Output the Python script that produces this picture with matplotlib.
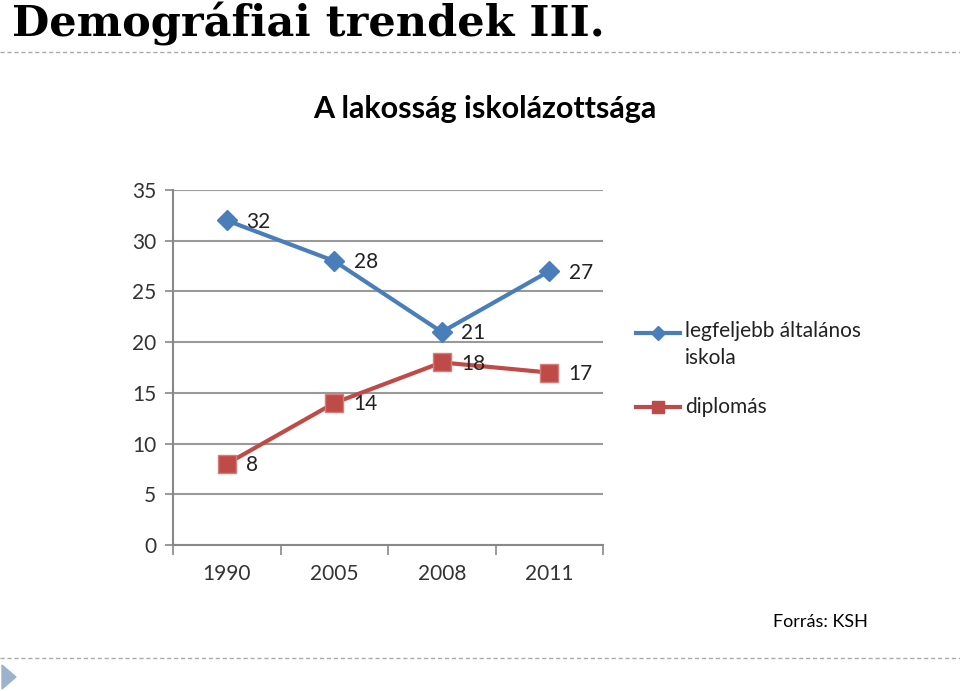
import matplotlib.pyplot as plt
import numpy as np
from matplotlib.lines import Line2D

# data
years = ['1990', '2005', '2008', '2011']
alapfok = [32, 28, 21, 27]
diplomas = [8, 14, 18, 17]
labels = ['legfeljebb általános\niskola', 'diplomás']
yticks = [0, 5, 10, 15, 20, 25, 30, 35]

blue = '#4A7EBB'
red = '#BE4B48'
sans = ['Lato', 'DejaVu Sans']

fig = plt.figure(figsize=(9.6, 6.91), dpi=100)

# slide title and decorations
fig.text(12 / 960, 1 - 37 / 691, 'Demográfiai trendek III.', family='DejaVu Serif',
         weight='bold', size=31, ha='left', va='baseline', color='black')
fig.add_artist(Line2D([0, 1], [1 - 52 / 691] * 2, color='#AAAAAA', lw=1, ls=(0, (3, 2))))
fig.add_artist(Line2D([0, 1], [1 - 658 / 691] * 2, color='#AAAAAA', lw=1, ls=(0, (3, 2))))
fig.add_artist(plt.Polygon([[2 / 960, 1 - 665 / 691], [2 / 960, 1 - 689 / 691], [16 / 960, 1 - 677 / 691]],
                           closed=True, color='#9DB3CC', transform=fig.transFigure))

fig.text(485 / 960, 1 - 118 / 691, 'A lakosság iskolázottsága', family=sans,
         weight='bold', size=22, ha='center', va='baseline')
fig.text(868 / 960, 1 - 627 / 691, 'Forrás: KSH', family=sans, size=13,
         ha='right', va='baseline')

ax = fig.add_axes([173 / 960, 1 - 545 / 691, 430 / 960, 355 / 691])
x = np.arange(len(years))

ax.plot(x, alapfok, color=blue, lw=3, marker='D', ms=10, mfc=blue, mec=blue)
ax.plot(x, diplomas, color=red, lw=3, marker='s', ms=13, mfc=red, mec='#D97C79')

for xi, v in zip(x, alapfok):
    ax.annotate(str(v), (xi, v), xytext=(14, -1), textcoords='offset points',
                ha='left', va='center', family=sans, size=15, color='#222222')
for xi, v in zip(x, diplomas):
    ax.annotate(str(v), (xi, v), xytext=(14, -1), textcoords='offset points',
                ha='left', va='center', family=sans, size=15, color='#222222')

ax.set_xlim(-0.5, 3.5)
ax.set_ylim(0, 35)
ax.set_yticks(yticks)
ax.set_yticklabels([str(t) for t in yticks], family=sans, size=15, color='#333333')
ax.set_xticks(x)
ax.set_xticklabels(years, family=sans, size=15, color='#333333')
ax.set_xticks(np.arange(-0.5, 4, 1), minor=True)
ax.tick_params(axis='x', which='major', length=0, pad=14)
ax.tick_params(axis='x', which='minor', length=7, color='#888888', width=1.2)
ax.tick_params(axis='y', length=6, color='#888888', width=1.2, pad=6)

ax.yaxis.grid(True, color='#999999', lw=1.5)
ax.set_axisbelow(True)
for s in ['top', 'right']:
    ax.spines[s].set_visible(False)
for s in ['left', 'bottom']:
    ax.spines[s].set_color('#888888')
    ax.spines[s].set_linewidth(1.5)

# legend drawn by hand so the key sits on the first text line
legend_rows = [(333, blue, 'D', 7, labels[0]), (407, red, 's', 9, labels[1])]
for y0, col, mk, msz, lab in legend_rows:
    yf = 1 - y0 / 691
    fig.add_artist(Line2D([636 / 960, 680 / 960], [yf, yf], color=col, lw=3))
    fig.add_artist(Line2D([658 / 960], [yf], color=col, marker=mk, ms=msz, mfc=col, mec=col))
    if '\n' in lab:
        fig.text(685 / 960, 1 - 321 / 691, lab, family=sans, size=15, color='#222222',
                 ha='left', va='top', linespacing=1.45)
    else:
        fig.text(685 / 960, yf, lab, family=sans, size=15, color='#222222',
                 ha='left', va='center')

fig.savefig('out.png', dpi=100)
